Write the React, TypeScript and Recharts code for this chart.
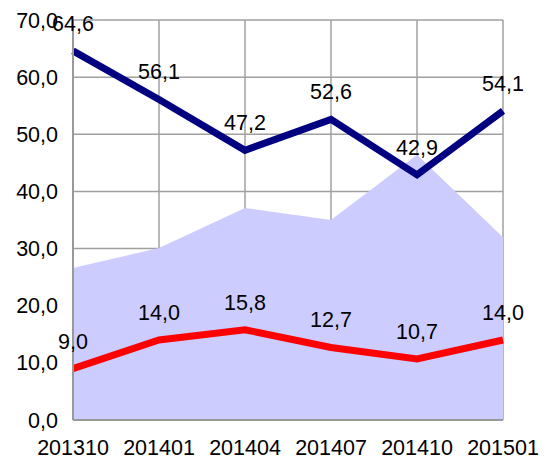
import React from "react";
import { ComposedChart, Line, Area, XAxis, YAxis, CartesianGrid, LabelList } from "recharts";

const categories = ["201310", "201401", "201404", "201407", "201410", "201501"];
const blueValues = [64.6, 56.1, 47.2, 52.6, 42.9, 54.1];
const redValues = [9.0, 14.0, 15.8, 12.7, 10.7, 14.0];
const areaValues = [26.6, 30.1, 37.1, 35.0, 46.4, 32.0];
const yTicks = [0, 10, 20, 30, 40, 50, 60, 70];

const data = categories.map((c, i) => ({
  name: c,
  blue: blueValues[i],
  red: redValues[i],
  area: areaValues[i],
}));

const fmt = (v: any) => Number(v).toFixed(1).replace(".", ",");
const FONT = "'Liberation Sans', Arial, sans-serif";
const FS = 21.5;

export default function App() {
  return (
    <div style={{ position: "absolute", left: 0, top: 0 }}>
      <ComposedChart
        width={547}
        height={459}
        data={data}
        margin={{ top: 20, right: 44, left: 8, bottom: 9 }}
        style={{ fontFamily: FONT }}
      >
        <CartesianGrid stroke="#a0a0a0" strokeWidth={1.5} />
        <XAxis
          dataKey="name"
          tickLine={false}
          tickSize={0}
          tickMargin={20}
          height={30}
          axisLine={{ stroke: "#999999", strokeWidth: 2 }}
          tick={{ fill: "#000", fontSize: FS, fontFamily: FONT }}
          interval={0}
        />
        <YAxis
          domain={[0, 70]}
          ticks={yTicks}
          tickFormatter={fmt}
          tickLine={false}
          tickSize={0}
          tickMargin={15}
          width={65}
          axisLine={{ stroke: "#999999", strokeWidth: 2 }}
          tick={{ fill: "#000", fontSize: FS, fontFamily: FONT }}
          interval={0}
        />
        <Area
          type="linear"
          dataKey="area"
          stroke="none"
          fill="#ccccff"
          fillOpacity={1}
          isAnimationActive={false}
        />
        <Line
          type="linear"
          dataKey="blue"
          stroke="#000080"
          strokeWidth={7}
          dot={false}
          isAnimationActive={false}
        >
          <LabelList dataKey="blue" position="top" offset={20} formatter={fmt} fill="#000" fontSize={FS} fontFamily={FONT} />
        </Line>
        <Line
          type="linear"
          dataKey="red"
          stroke="#ff0000"
          strokeWidth={7}
          dot={false}
          isAnimationActive={false}
        >
          <LabelList dataKey="red" position="top" offset={20} formatter={fmt} fill="#000" fontSize={FS} fontFamily={FONT} />
        </Line>
      </ComposedChart>
    </div>
  );
}
